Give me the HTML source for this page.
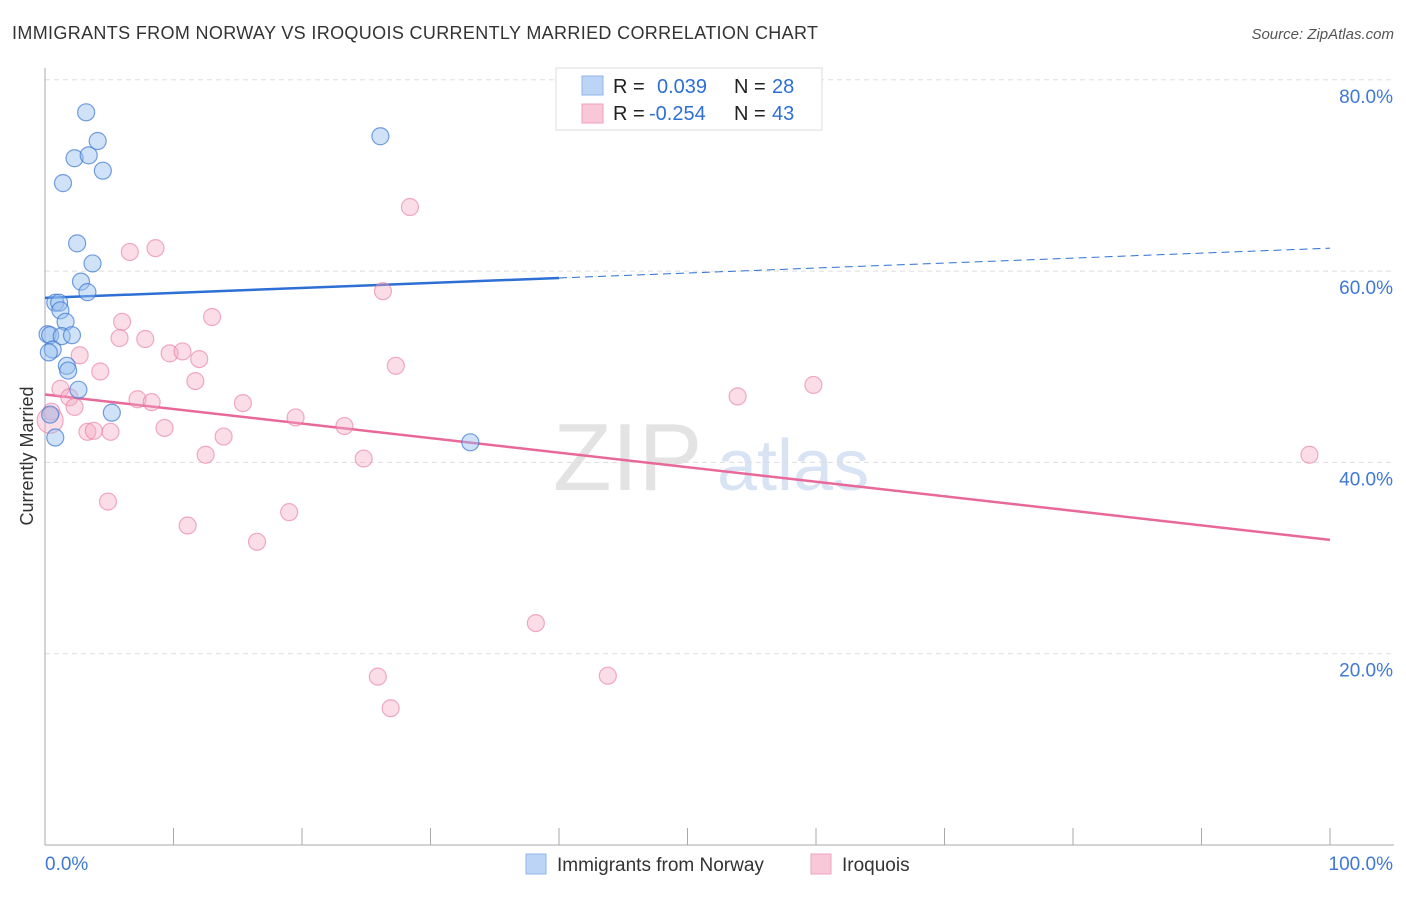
<!DOCTYPE html>
<html><head><meta charset="utf-8">
<style>
body{margin:0;background:#fff;font-family:"Liberation Sans",sans-serif;}
svg text{font-family:"Liberation Sans",sans-serif;}
</style></head>
<body>
<svg id="chart" width="1406" height="892" xmlns="http://www.w3.org/2000/svg">
<text x="12" y="39" font-size="18" fill="#333" textLength="806" lengthAdjust="spacing">IMMIGRANTS FROM NORWAY VS IROQUOIS CURRENTLY MARRIED CORRELATION CHART</text>
<text x="1394" y="39" font-size="15" fill="#555" text-anchor="end" font-style="italic">Source: ZipAtlas.com</text>
<text transform="translate(33,456) rotate(-90)" font-size="18" fill="#333" text-anchor="middle">Currently Married</text>
<g>
<text x="553" y="490" font-size="96" fill="#ddd" font-family="Liberation Serif" opacity="0.8">ZIP</text>
<text x="717" y="490" font-size="72" fill="#c8d8ee" opacity="0.7">atlas</text>
</g>
<g id="grid"></g>
<g id="axes"></g>
<g id="trends"></g>
<g id="points"></g>
<g>
<rect x="556" y="68" width="266" height="62" fill="#fff" stroke="#ddd"/>
<rect x="582" y="76" width="21" height="19" fill="#bcd4f5" stroke="#8fb4e8"/>
<rect x="582" y="104" width="21" height="19" fill="#f9c8d8" stroke="#f0a0bb"/>
<text x="613" y="93" font-size="20" fill="#222">R =</text>
<text x="657" y="93" font-size="20" fill="#2d6fd4">0.039</text>
<text x="734" y="93" font-size="20" fill="#222">N =</text>
<text x="772" y="93" font-size="20" fill="#2d6fd4">28</text>
<text x="613" y="120" font-size="20" fill="#222">R =</text>
<text x="649" y="120" font-size="20" fill="#2d6fd4">-0.254</text>
<text x="734" y="120" font-size="20" fill="#222">N =</text>
<text x="772" y="120" font-size="20" fill="#2d6fd4">43</text>
</g>
<g>
<rect x="526" y="854" width="20" height="20" fill="#bcd4f5" stroke="#8fb4e8"/>
<text x="557" y="871" font-size="19" fill="#333">Immigrants from Norway</text>
<rect x="811" y="854" width="20" height="20" fill="#f9c8d8" stroke="#f0a0bb"/>
<text x="842" y="871" font-size="19" fill="#333">Iroquois</text>
</g>
</svg>
<script>
const blueX=[3.2,4.1,2.3,3.4,4.5,1.4,26.1,2.5,3.7,2.8,3.3,0.8,1.1,1.2,1.6,0.2,0.4,1.3,2.1,0.6,0.3,1.7,1.8,2.6,5.2,0.4,0.8,33.1];
const blueY=[76.6,73.6,71.8,72.1,70.5,69.2,74.1,62.9,60.8,58.9,57.8,56.7,56.7,55.9,54.7,53.4,53.3,53.2,53.3,51.8,51.5,50.1,49.6,47.6,45.2,45.0,42.6,42.1];
const pinkX=[6.6,8.6,28.4,26.3,6.0,13.0,5.8,7.8,2.7,9.7,10.7,12.0,27.3,4.3,11.7,1.2,1.9,7.2,8.3,2.3,15.4,19.5,0.5,9.3,23.3,3.3,3.8,5.1,13.9,12.5,24.8,53.9,59.8,98.4,4.9,11.1,19.0,16.5,38.2,25.9,43.8,26.9,0.4];
const pinkY=[62.0,62.4,66.7,57.9,54.7,55.2,53.0,52.9,51.2,51.4,51.6,50.8,50.1,49.5,48.5,47.7,46.8,46.6,46.3,45.8,46.2,44.7,45.3,43.6,43.8,43.2,43.3,43.2,42.7,40.8,40.4,46.9,48.1,40.8,35.9,33.4,34.8,31.7,23.2,17.6,17.7,14.3,44.4];
const yTicks=[20,40,60,80];
const yTickLabels=["20.0%","40.0%","60.0%","80.0%"];
const blueTrend=[57.2,62.4];
const blueSolidEnd=40;
const pinkTrend=[47.1,31.9];
const NS="http://www.w3.org/2000/svg";
const X=v=>45+v*12.85, Y=v=>845-v*9.565;
function mk(tag,attrs,parent){const e=document.createElementNS(NS,tag);for(const k in attrs)e.setAttribute(k,attrs[k]);parent.appendChild(e);return e;}
const grid=document.getElementById('grid'),axes=document.getElementById('axes');
yTicks.forEach((t,i)=>{
 const l=mk('line',{x1:45,x2:1394,y1:Y(t),y2:Y(t),stroke:'#ddd','stroke-dasharray':'5,4'},grid);
 
 
 const tx=mk('text',{x:1393,y:Y(t)+23,'font-size':19,fill:'#3f78d6','text-anchor':'end'},axes);
 tx.textContent=yTickLabels[i];
 
 
});
const ya=mk('line',{x1:45,x2:45,y1:68,y2:845,stroke:'#aaa'},axes);


const xa=mk('line',{x1:45,x2:1394,y1:845,y2:845,stroke:'#aaa'},axes);


for(let i=0;i<=10;i++){const t=mk('line',{x1:X(i*10),x2:X(i*10),y1:828,y2:845,stroke:'#aaa'},axes);
 
 }
const xl0=mk('text',{x:45,y:870,'font-size':19,fill:'#3f78d6'},axes);xl0.textContent='0.0%';


const xl1=mk('text',{x:1393,y:870,'font-size':19,fill:'#3f78d6','text-anchor':'end'},axes);xl1.textContent='100.0%';


const tr=document.getElementById('trends');
const by=x=>blueTrend[0]+(blueTrend[1]-blueTrend[0])*x/100;
const b1=mk('line',{x1:X(0),y1:Y(by(0)),x2:X(blueSolidEnd),y2:Y(by(blueSolidEnd)),stroke:'#2d6fd4','stroke-width':2.5},tr);


const b2=mk('line',{x1:X(blueSolidEnd),y1:Y(by(blueSolidEnd)),x2:X(100),y2:Y(by(100)),stroke:'#2d6fd4','stroke-width':1,'stroke-dasharray':'8,5'},tr);


const p1=mk('line',{x1:X(0),y1:Y(pinkTrend[0]),x2:X(100),y2:Y(pinkTrend[1]),stroke:'#e8689a','stroke-width':2.5},tr);


const pts=document.getElementById('points');
pinkX.forEach((x,i)=>{const r=(i===pinkX.length-1)?13:8.5;
 const c=mk('circle',{cx:X(x),cy:Y(pinkY[i]),r:r,fill:'rgba(246,170,196,0.4)',stroke:'rgba(232,120,160,0.6)','stroke-width':1.2},pts);
 
 });
blueX.forEach((x,i)=>{
 const c=mk('circle',{cx:X(x),cy:Y(blueY[i]),r:8.5,fill:'rgba(150,190,240,0.45)',stroke:'rgba(60,120,210,0.7)','stroke-width':1.2},pts);
 
 });
</script>
</body></html>
